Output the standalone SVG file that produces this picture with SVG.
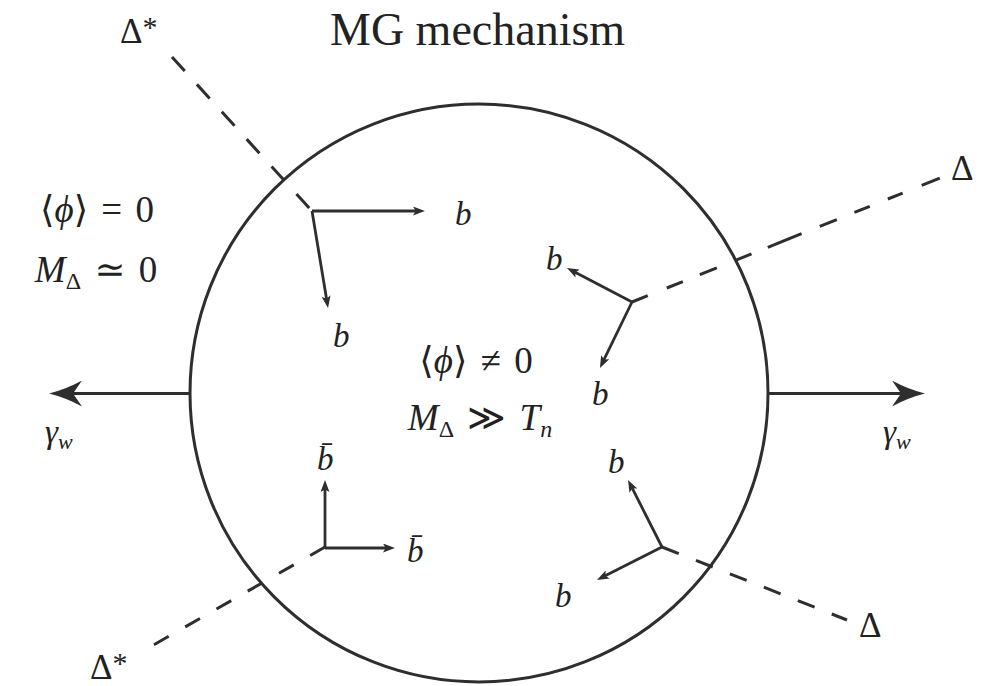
<svg xmlns="http://www.w3.org/2000/svg" width="998" height="686" viewBox="0 0 998 686">
  <style>
    .t { font-family: "Liberation Serif", "DejaVu Serif", serif; fill: #222; }
    .it { font-style: italic; }
    .eq { word-spacing: 4px; }
    .ln { stroke: #2e2e2e; stroke-width: 3; fill: none; }
    .ds { stroke: #2e2e2e; stroke-width: 3; fill: none; }
    .ar { stroke: #2e2e2e; stroke-width: 2.8; fill: none; marker-end: url(#ah); }
    .big { stroke: #2e2e2e; stroke-width: 3.2; fill: none; marker-end: url(#bah); }
  </style>
  <defs>
    <marker id="ah" markerUnits="userSpaceOnUse" viewBox="0 0 12 9" refX="5" refY="4.5" markerWidth="12" markerHeight="9" orient="auto">
      <path d="M0,0 L12,4.5 L0,9 L2.6,4.5 Z" fill="#2e2e2e"/>
    </marker>
    <marker id="bah" markerUnits="userSpaceOnUse" viewBox="0 0 33 26" refX="9" refY="13" markerWidth="33" markerHeight="26" orient="auto">
      <path d="M0,0 Q16,8.8 33,13 Q16,17.2 0,26 L9,13 Z" fill="#2e2e2e"/>
    </marker>
  </defs>
  <rect width="998" height="686" fill="#fff"/>

  <g id="title">
    <text class="t" x="330" y="45" font-size="46">MG mechanism</text>
  </g>

  <g id="bubble">
    <circle class="ln" cx="479" cy="393" r="289"/>
  </g>

  <g id="connectors">
    <path class="ds" d="M172,57 L312,211" stroke-dasharray="19 18"/>
    <path class="ds" d="M632,302 L940,178" stroke-dasharray="17 20.5 17.3 18.3 18.3 21.4 16 17.6 36.4 19.6 18.4 19 16.5 19.5 16 20.5 19.5 10"/>
    <path class="ds" d="M325,547 L150,647" stroke-dasharray="17 19"/>
    <path class="ds" d="M662,547 L847,620" stroke-dasharray="18 18.5"/>

    <path class="ar" d="M312,211 L418,211"/>
    <path class="ar" d="M312,211 L326.9,301"/>
    <path class="ar" d="M632,302 L573.2,271.3"/>
    <path class="ar" d="M632,302 L603,361.7"/>
    <path class="ar" d="M325,548 L325,487"/>
    <path class="ar" d="M325,548 L388,548"/>
    <path class="ar" d="M662,547 L631.2,486.2"/>
    <path class="ar" d="M662,547 L603.2,576.8"/>

    <path class="big" d="M190,393.5 L73,393.5"/>
    <path class="big" d="M768,393.5 L901,393.5"/>
  </g>

  <g id="label-delta-star-top">
    <text class="t" x="120" y="43" font-size="35">Δ<tspan font-size="30" dy="-6">*</tspan></text>
  </g>
  <g id="label-delta-right">
    <text class="t" x="951" y="180" font-size="35">Δ</text>
  </g>
  <g id="label-delta-star-bottom">
    <text class="t" x="90" y="679" font-size="35">Δ<tspan font-size="30" dy="-6">*</tspan></text>
  </g>
  <g id="label-delta-bottom-right">
    <text class="t" x="859" y="637" font-size="35">Δ</text>
  </g>

  <g id="outside-state">
    <text class="t eq" x="97" y="222" font-size="37" text-anchor="middle">⟨<tspan class="it">ϕ</tspan>⟩ = 0</text>
    <text class="t eq" x="96" y="282" font-size="37" text-anchor="middle"><tspan class="it">M</tspan><tspan font-size="24" dy="7">Δ</tspan><tspan dy="-7"> ≃ 0</tspan></text>
  </g>

  <g id="inside-state">
    <text class="t eq" x="476" y="373" font-size="37" text-anchor="middle">⟨<tspan class="it">ϕ</tspan>⟩ ≠ 0</text>
    <text class="t eq" x="480" y="430" font-size="37" text-anchor="middle"><tspan class="it">M</tspan><tspan font-size="24" dy="7">Δ</tspan><tspan dy="-7"> ≫ </tspan><tspan class="it">T</tspan><tspan class="it" font-size="24" dy="7">n</tspan></text>
  </g>

  <g id="gamma-left">
    <text class="t it" x="45" y="443" font-size="33">γ<tspan font-size="22" dy="6">w</tspan></text>
  </g>
  <g id="gamma-right">
    <text class="t it" x="883" y="443" font-size="33">γ<tspan font-size="22" dy="6">w</tspan></text>
  </g>

  <g id="vertex-tl-labels">
    <text class="t it" x="455" y="225" font-size="33">b</text>
    <text class="t it" x="333" y="347" font-size="33">b</text>
  </g>
  <g id="vertex-tr-labels">
    <text class="t it" x="546" y="270" font-size="33">b</text>
    <text class="t it" x="592" y="405" font-size="33">b</text>
  </g>
  <g id="vertex-bl-labels">
    <text class="t it" x="317" y="470" font-size="33">b̄</text>
    <text class="t it" x="407" y="562" font-size="33">b̄</text>
  </g>
  <g id="vertex-br-labels">
    <text class="t it" x="608" y="473" font-size="33">b</text>
    <text class="t it" x="555" y="607" font-size="33">b</text>
  </g>
</svg>
